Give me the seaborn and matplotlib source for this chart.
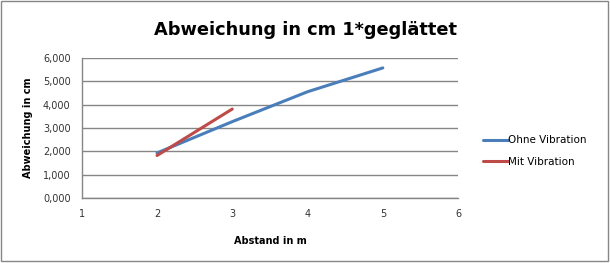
import matplotlib
matplotlib.use("Agg")
import matplotlib.pyplot as plt
import matplotlib.ticker as mticker
from matplotlib.lines import Line2D
import seaborn as sns
import pandas as pd

# data
abstand_ohne = [2, 3, 4, 5]
werte_ohne = [1.93, 3.27, 4.55, 5.57]
abstand_mit = [2, 3]
werte_mit = [1.82, 3.81]
serien = ["Ohne Vibration", "Mit Vibration"]
x_ticks = [1, 2, 3, 4, 5, 6]
y_ticks = [0, 1, 2, 3, 4, 5, 6]

df = pd.DataFrame({
    "Abstand": abstand_ohne + abstand_mit,
    "Wert": werte_ohne + werte_mit,
    "Serie": [serien[0]] * len(abstand_ohne) + [serien[1]] * len(abstand_mit),
})

sns.set_style("white")
plt.rcParams["font.family"] = ["DejaVu Sans"]
plt.rcParams["text.color"] = "black"
plt.rcParams["axes.labelcolor"] = "black"

fig = plt.figure(figsize=(6.1, 2.63), dpi=100)
ax = fig.add_axes([0.134, 0.247, 0.617, 0.533])

sns.lineplot(data=df, x="Abstand", y="Wert", hue="Serie", hue_order=serien,
             palette=["#4A7EBB", "#BE4B48"], linewidth=2.2, ax=ax,
             legend=False)

ax.set_xlim(1, 6)
ax.set_ylim(0, 6)
ax.set_xticks(x_ticks)
ax.set_yticks(y_ticks)
ax.yaxis.set_major_formatter(mticker.FuncFormatter(lambda v, p: f"{v:.3f}".replace(".", ",")))
ax.grid(axis="y", color="#868686", linewidth=1)
ax.grid(axis="x", visible=False)
ax.set_axisbelow(True)
for s in ["top", "right"]:
    ax.spines[s].set_visible(False)
for s in ["left", "bottom"]:
    ax.spines[s].set_color("#868686")
    ax.spines[s].set_linewidth(1)
ax.tick_params(axis="both", length=0, labelsize=7, colors="#333333", pad=8)

ax.set_xlabel("Abstand in m", fontsize=7, fontweight="bold", labelpad=12)
ax.set_ylabel("Abweichung in cm", fontsize=7, fontweight="bold", labelpad=7)

fig.text(0.5, 0.885, "Abweichung in cm 1*geglättet", ha="center", va="center",
         fontsize=12.8, fontweight="bold", color="black")

# legend
handles = [Line2D([0], [0], color="#4A7EBB", lw=2.2),
           Line2D([0], [0], color="#BE4B48", lw=2.2)]
fig.legend(handles, serien, loc="center left", bbox_to_anchor=(0.776, 0.425),
           frameon=False, fontsize=7.5, handlelength=2.4, handletextpad=0.05,
           labelspacing=1.1)

# outer frame
fig.patches.append(plt.Rectangle((0.002, 0.008), 0.994, 0.988, transform=fig.transFigure,
                                 fill=False, edgecolor="#868686", linewidth=1))

fig.savefig("out.png", dpi=100)
